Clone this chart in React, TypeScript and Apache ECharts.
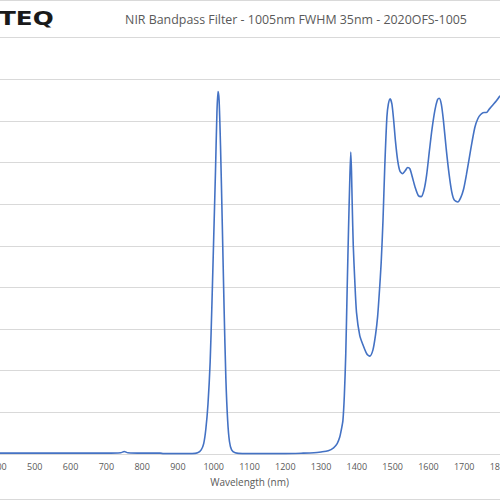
import React, { useEffect, useRef } from "react";
import * as echarts from "echarts";

const TITLE = "NIR Bandpass Filter - 1005nm FWHM 35nm - 2020OFS-1005";
const LOGO = "TEQ";
const X_NAME = "Wavelength (nm)";

const wavelengths: number[] = [
  400, 450, 500, 550, 600, 650, 700, 740, 750, 760, 800, 850, 860, 900, 940, 955, 965, 972, 978, 984,
  990, 995, 1000, 1005, 1009, 1012, 1015, 1019, 1024, 1029, 1034, 1039, 1044, 1050, 1060, 1080, 1150, 1200,
  1250, 1280, 1300, 1320, 1335, 1345, 1352, 1357, 1361, 1365, 1369, 1373, 1377, 1380, 1383, 1385, 1387,
  1390, 1394, 1399, 1408, 1418, 1428, 1436, 1445, 1452, 1458, 1463, 1468, 1473, 1478, 1484, 1488, 1493,
  1498, 1503, 1508, 1514, 1520, 1527, 1535, 1542, 1548, 1555, 1563, 1572, 1580, 1588, 1595, 1603, 1610,
  1618, 1625, 1630, 1636, 1642, 1650, 1658, 1665, 1672, 1682, 1690, 1698, 1706, 1714, 1722, 1730, 1738,
  1746, 1755, 1762, 1770, 1780, 1790, 1800,
];

const transmission: number[] = [
  0.2, 0.2, 0.2, 0.2, 0.2, 0.2, 0.2, 0.3, 0.6, 0.3, 0.2, 0.2, 0.1, 0.1, 0.1, 0.3, 1, 2.5, 6, 12,
  22, 36, 52, 68, 82, 87, 85, 74, 55, 35, 18, 8, 3, 1, 0.3, 0.1, 0.1, 0.1,
  0.2, 0.3, 0.5, 0.8, 1.5, 2.5, 4, 6, 8, 14, 24, 40, 55, 65, 72.5, 68, 60,
  50, 42, 34, 28.5, 26, 24, 23.5, 25, 28.5, 33, 39, 46, 56, 69, 81, 84, 85.3,
  84, 80, 75, 70.5, 68, 67.3, 68, 68.8, 68.5, 66.5, 64, 62, 61.8, 63.5, 67, 73, 78,
  82.5, 85, 85.4, 84, 80, 73, 67, 63, 61, 60.5, 61.5, 63.5, 67, 71, 75, 78.5, 80.5,
  81.5, 82, 82, 82.8, 83.8, 84.8, 86,
];

const X_MIN = 400;
const X_MAX = 1800;
const X_STEP = 100;
const Y_MIN = 0;
const Y_MAX = 100;
const Y_STEP = 10;

export default function App() {
  const ref = useRef<HTMLDivElement>(null);
  useEffect(() => {
    if (!ref.current) return;
    const chart = echarts.init(ref.current, null, { renderer: "svg" });
    const data = wavelengths.map((w, i) => [w, transmission[i]]);
    chart.setOption({
      animation: false,
      backgroundColor: "#ffffff",
      grid: {
        left: -1,
        right: 0,
        top: 37.5,
        bottom: 46,
        containLabel: false,
        outerBoundsMode: "none",
      },
      xAxis: {
        type: "value",
        min: X_MIN,
        max: X_MAX,
        interval: X_STEP,
        name: X_NAME,
        nameLocation: "middle",
        nameGap: 23,
        nameTextStyle: { color: "#595959", fontSize: 10, fontFamily: "Open Sans" },
        axisLine: { show: true, lineStyle: { color: "#d9d9d9", width: 1 } },
        axisTick: { show: false },
        axisLabel: {
          color: "#595959",
          fontSize: 9,
          fontFamily: "Open Sans",
          margin: 8,
          showMinLabel: true,
          showMaxLabel: true,
          hideOverlap: false,
          formatter: (v: number) => String(v),
        },
        splitLine: { show: false },
      },
      yAxis: {
        type: "value",
        min: Y_MIN,
        max: Y_MAX,
        interval: Y_STEP,
        axisLine: { show: false },
        axisTick: { show: false },
        axisLabel: { show: false },
        splitLine: { show: true, lineStyle: { color: "#d9d9d9", width: 1 } },
      },
      series: [
        {
          type: "line",
          data,
          smooth: 0.25,
          showSymbol: false,
          lineStyle: { color: "#4472c4", width: 1.6 },
          clip: true,
        },
      ],
      graphic: [
        {
          type: "line",
          shape: { x1: 0, y1: 0.5, x2: 500, y2: 0.5 },
          style: { stroke: "#d9d9d9", lineWidth: 1 },
        },
        {
          type: "line",
          shape: { x1: 0, y1: 499.5, x2: 500, y2: 499.5 },
          style: { stroke: "#d9d9d9", lineWidth: 1 },
        },
        {
          type: "text",
          x: -1,
          y: 19,
          scaleX: 1.3,
          style: {
            text: LOGO,
            fill: "#1a1a1a",
            font: "bold 19px 'DejaVu Sans'",
            textAlign: "left",
            textVerticalAlign: "middle",
          },
        },
        {
          type: "text",
          x: 296,
          y: 19,
          style: {
            text: TITLE,
            fill: "#595959",
            font: "12.4px 'Open Sans'",
            textAlign: "center",
            textVerticalAlign: "middle",
          },
        },
      ],
    });
    return () => chart.dispose();
  }, []);
  return (
    <div
      ref={ref}
      style={{ position: "fixed", left: 0, top: 0, width: 500, height: 500, background: "#fff" }}
    />
  );
}
